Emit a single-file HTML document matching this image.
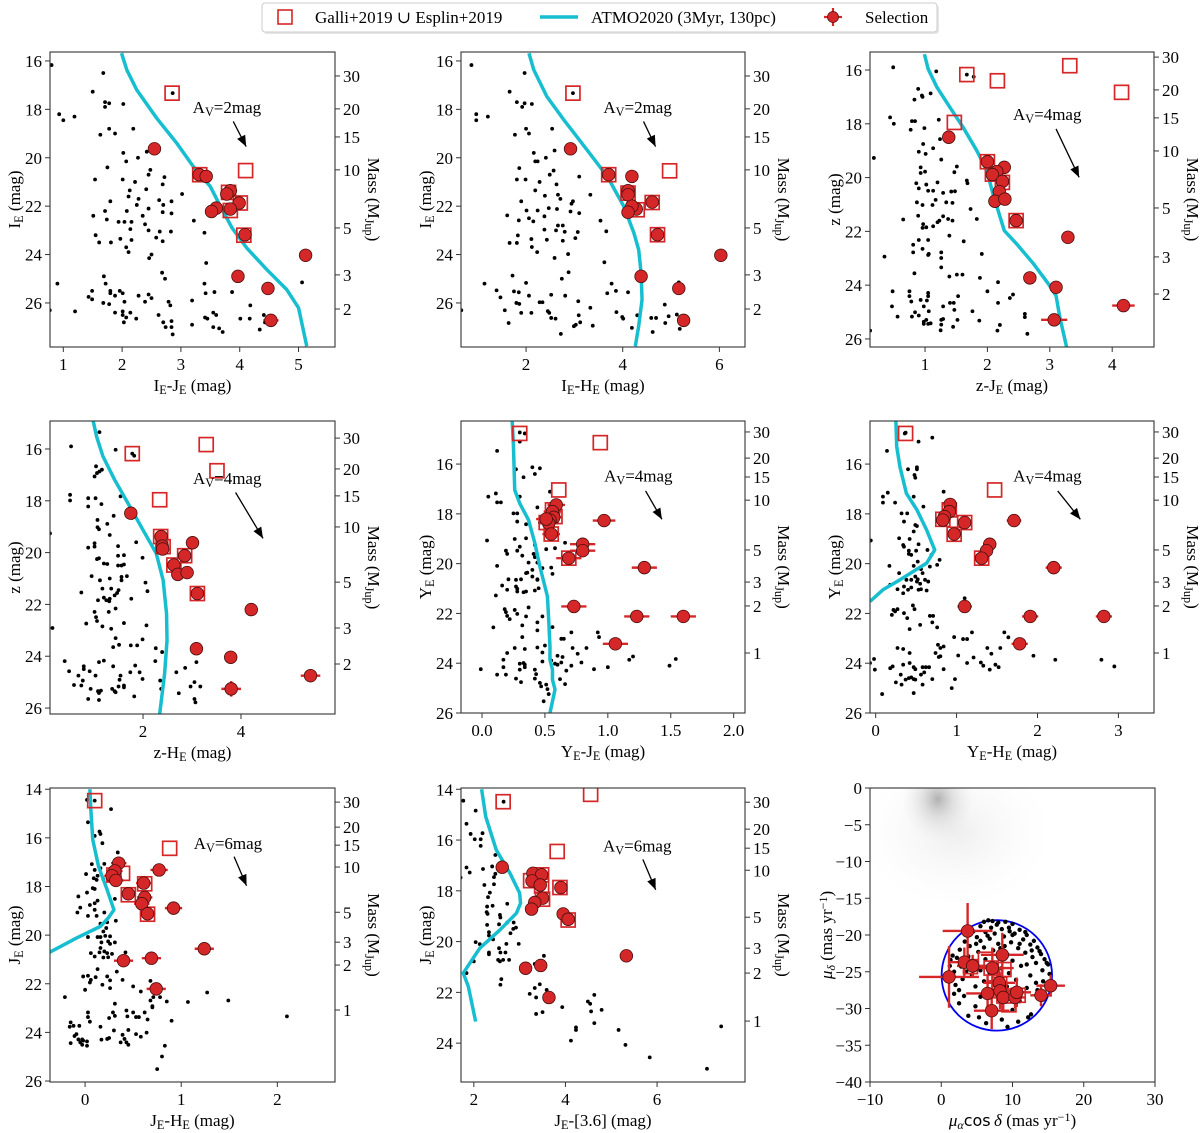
<!DOCTYPE html>
<html><head><meta charset="utf-8"><title>CMD panels</title>
<style>
html,body{margin:0;padding:0;background:#fff;}
svg{display:block;font-family:"Liberation Serif","DejaVu Serif",serif;}
</style></head>
<body>
<svg id="fig" width="1200" height="1133" viewBox="0 0 1200 1133" xmlns="http://www.w3.org/2000/svg">
<defs>
<radialGradient id="fieldGrad" cx="50%" cy="50%" r="50%">
<stop offset="0" stop-color="#9a9a9a" stop-opacity="0.75"/>
<stop offset="0.45" stop-color="#b8b8b8" stop-opacity="0.35"/>
<stop offset="1" stop-color="#dddddd" stop-opacity="0"/>
</radialGradient>
<radialGradient id="fieldGrad2" cx="50%" cy="50%" r="50%">
<stop offset="0" stop-color="#cfcfcf" stop-opacity="0.35"/>
<stop offset="1" stop-color="#eeeeee" stop-opacity="0"/>
</radialGradient>
</defs>
<g>
<rect x="264" y="5" width="675" height="29" rx="3" fill="#e6e6e6"/>
<rect x="262" y="3" width="675" height="29" rx="3" fill="#fff" stroke="#cccccc" stroke-width="1"/>
<rect x="278" y="10" width="14" height="14" fill="none" stroke="#d62728" stroke-width="1.6"/>
<text x="315" y="23" font-size="17">Galli+2019 ∪ Esplin+2019</text>
<line x1="540" y1="17" x2="578" y2="17" stroke="#17becf" stroke-width="3.5"/>
<text x="591" y="23" font-size="17">ATMO2020 (3Myr, 130pc)</text>
<line x1="824" y1="17" x2="842" y2="17" stroke="#d62728" stroke-width="2.2"/>
<line x1="833" y1="8" x2="833" y2="26" stroke="#d62728" stroke-width="2.2"/>
<circle cx="833" cy="17" r="5.5" fill="#d62728" stroke="#5a1212" stroke-width="0.8"/>
<text x="865" y="23" font-size="17">Selection</text>
</g>
</svg>
<script>
// ---------- DATA ----------
const massLabels = ["30","20","15","10","5","3","2","1"];

const p1Mass = [16.62,17.98,19.14,20.50,22.90,24.84,26.25];
const p1Dots = [[0.8,16.17],[1.68,16.5],[1.5,17.27],[1.71,17.7],[1.78,17.75],[1.71,17.9],[2.02,17.78],[0.93,18.2],[1.0,18.45],[1.19,18.3],[1.63,19.05],[1.78,18.8],[1.88,19.0],[2.19,18.8],[2.02,19.8],[2.07,20.15],[2.27,20.0],[2.42,19.75],[1.75,20.4],[1.54,20.9],[2.01,20.9],[2.22,21.0],[2.48,20.5],[2.45,20.7],[2.72,20.8],[2.69,21.1],[2.13,21.35],[2.11,21.6],[2.28,21.7],[2.41,21.3],[2.63,21.75],[2.7,21.95],[2.84,21.8],[3.02,21.5],[1.8,21.8],[1.71,22.2],[1.74,22.55],[2.08,22.2],[2.25,21.95],[2.45,22.1],[2.69,22.25],[2.84,22.3],[2.35,22.4],[1.51,22.4],[1.94,22.65],[2.04,22.65],[2.16,22.65],[2.39,22.75],[2.45,23.0],[2.64,23.05],[2.83,23.05],[2.14,22.95],[3.22,22.6],[3.4,23.1],[1.55,23.2],[1.61,23.5],[1.81,23.5],[1.97,23.35],[2.16,23.4],[2.58,23.3],[2.69,23.45],[2.07,23.7],[2.11,23.9],[2.5,24.0],[2.46,24.15],[3.43,24.35],[1.69,24.9],[1.72,25.2],[2.68,24.75],[2.73,25.0],[3.4,25.2],[3.57,25.55],[3.42,25.6],[3.87,25.55],[5.06,25.15],[0.9,25.2],[1.43,25.75],[1.49,25.5],[1.49,25.85],[1.8,25.5],[1.8,25.6],[1.88,25.7],[1.96,25.5],[2.01,25.6],[2.28,25.7],[2.45,25.65],[2.5,25.8],[2.39,25.95],[2.04,25.95],[1.68,26.0],[1.78,26.05],[1.88,26.4],[2.01,26.35],[2.01,26.5],[2.14,26.4],[2.07,26.6],[2.03,26.8],[2.24,26.65],[1.2,26.35],[0.77,26.3],[2.62,26.5],[2.7,26.8],[2.74,27.0],[2.84,26.75],[2.84,27.0],[2.79,25.95],[2.82,26.1],[3.19,25.9],[3.19,26.9],[3.41,26.6],[3.45,26.65],[3.55,26.4],[3.6,26.5],[3.55,27.0],[3.65,27.05],[3.71,27.2],[2.86,27.3],[4.01,26.65],[4.17,26.65],[4.18,26.1],[4.34,27.1],[4.41,26.5],[4.43,26.8],[2.86,17.33]];
const p1Sel = [[2.55,19.63,0,0],[3.31,20.7,0,0],[3.43,20.77,0,0],[3.84,21.36,0,0],[3.78,21.5,0,0],[3.99,21.87,0,0],[3.84,22.12,0,0],[3.6,22.08,0,0],[3.52,22.22,0,0],[4.09,23.18,0,0],[5.12,24.03,0,0],[3.97,24.9,0,0],[4.48,25.4,0,0],[4.53,26.72,0.13,0.05]];
const p1Gal = [[2.85,17.33],[3.32,20.7],[4.1,20.53],[3.81,21.43],[4.01,21.87],[3.84,22.18],[4.07,23.2]];
const p1Iso = [[1.99,15.68],[2.08,16.37],[2.25,17.2],[2.59,18.37],[2.93,19.4],[3.21,20.36],[3.5,21.19],[3.67,22.0],[3.87,22.9],[4.12,23.73],[4.46,24.62],[4.8,25.45],[5.0,26.2],[5.14,27.79]];

const p2Mass = [16.62,17.98,19.14,20.50,22.90,24.84,26.25];
const p2Dots = [[0.87,16.17],[1.97,16.5],[1.66,17.27],[1.81,17.7],[1.92,17.9],[1.97,17.75],[2.12,17.78],[0.97,18.2],[0.97,18.45],[1.21,18.3],[1.77,19.05],[2.0,18.8],[2.06,19.0],[2.54,18.8],[2.16,19.8],[2.19,20.15],[2.24,20.15],[2.41,20.0],[2.59,19.7],[1.86,20.43],[1.81,20.9],[1.99,20.9],[2.28,21.0],[2.49,20.7],[2.57,20.53],[3.1,20.78],[2.63,21.1],[2.19,21.35],[2.39,21.57],[2.66,21.53],[2.71,21.7],[2.94,21.9],[2.97,21.8],[3.33,21.53],[1.9,21.8],[1.61,22.38],[1.85,22.59],[2.01,22.18],[2.06,22.5],[2.15,22.63],[2.24,22.18],[2.38,22.42],[2.47,22.08],[2.64,22.12],[2.92,22.22],[3.1,22.29],[2.38,22.97],[2.43,23.39],[2.62,23.0],[2.66,22.8],[2.76,22.8],[2.76,23.43],[2.8,23.06],[3.02,23.32],[3.07,23.07],[3.54,22.6],[3.66,23.04],[1.66,23.52],[1.81,23.52],[1.83,23.21],[2.11,23.36],[2.12,23.69],[2.23,23.9],[2.59,24.14],[2.87,23.98],[3.62,24.32],[1.72,24.87],[2.0,25.17],[2.88,24.73],[2.74,25.0],[3.77,25.2],[3.68,25.6],[3.86,25.5],[4.11,25.56],[5.16,25.15],[1.14,25.2],[1.39,25.48],[1.47,25.77],[1.75,25.52],[1.85,25.56],[2.06,25.7],[2.52,25.66],[2.81,25.7],[1.8,26.0],[1.86,26.04],[1.56,26.3],[1.64,26.83],[1.9,26.41],[2.11,26.41],[2.28,25.97],[2.34,25.97],[2.45,26.34],[2.48,26.41],[2.52,26.62],[2.61,26.65],[3.08,25.93],[3.09,26.51],[3.12,26.8],[3.03,26.9],[2.99,26.96],[3.33,26.2],[3.38,26.94],[3.87,26.38],[3.99,26.58],[4.01,26.65],[4.3,26.51],[4.19,27.03],[2.72,27.28],[4.59,26.62],[4.69,26.62],[4.87,26.07],[4.62,27.2],[4.95,26.55],[4.88,26.83],[5.12,26.48],[5.18,27.07],[0.66,26.3],[2.97,17.33]];
const p2Sel = [[2.92,19.63,0,0],[3.71,20.7,0,0],[4.19,20.77,0,0],[4.11,21.36,0,0],[4.11,21.53,0,0],[4.61,21.83,0,0],[4.28,22.12,0,0],[4.19,22.0,0,0],[4.11,22.25,0,0],[4.72,23.18,0,0],[6.03,24.03,0,0],[4.38,24.9,0,0],[5.16,25.4,0,0],[5.26,26.72,0.1,0.05]];
const p2Gal = [[2.97,17.33],[3.71,20.7],[4.97,20.54],[4.11,21.46],[4.61,21.85],[4.3,22.15],[4.72,23.18]];
const p2Iso = [[2.06,15.68],[2.16,16.37],[2.43,17.47],[2.78,18.43],[3.26,19.67],[3.68,20.77],[4.02,22.0],[4.23,23.1],[4.33,23.8],[4.38,24.76],[4.4,25.86],[4.33,26.96],[4.26,27.79]];

const p3Mass = [15.52,16.74,17.78,19.01,21.13,22.95,24.33];
const p3Dots = [[0.49,15.9],[1.18,16.05],[1.67,16.17],[1.78,16.25],[0.89,16.7],[0.83,17.1],[0.95,16.95],[0.96,17.0],[1.09,16.87],[0.44,17.76],[0.5,18.0],[0.79,17.9],[0.84,17.9],[0.77,18.22],[0.99,18.16],[1.22,17.85],[1.24,18.57],[0.97,18.75],[1.13,18.91],[0.9,19.04],[1.01,19.12],[0.18,19.27],[1.26,19.33],[0.93,19.62],[0.93,19.83],[1.0,19.78],[1.51,19.59],[1.47,19.8],[1.67,20.11],[1.68,20.21],[0.86,20.21],[1.02,20.26],[0.9,20.4],[1.05,20.49],[1.13,20.49],[1.2,20.18],[1.29,20.57],[1.42,20.52],[1.48,20.51],[0.87,20.92],[0.96,21.02],[1.12,21.02],[1.17,20.83],[1.34,20.92],[1.44,20.94],[1.73,21.17],[0.65,21.56],[0.89,21.42],[0.97,21.73],[1.02,21.85],[0.96,21.87],[1.13,21.81],[1.2,21.66],[1.29,21.44],[1.37,21.54],[1.44,21.6],[1.23,21.6],[1.39,22.16],[1.62,22.37],[1.83,21.54],[0.9,22.32],[1.05,22.32],[0.81,22.5],[0.81,22.78],[0.96,22.65],[1.06,22.84],[1.05,22.88],[1.26,22.78],[1.26,22.99],[1.91,22.84],[0.35,22.94],[1.26,23.34],[0.83,23.56],[1.39,23.68],[1.51,23.61],[1.6,23.61],[1.88,23.73],[2.17,23.89],[0.48,24.23],[0.75,24.23],[1.05,24.29],[1.05,24.41],[0.75,24.41],[0.78,24.61],[0.93,24.55],[1.03,24.57],[0.47,24.79],[0.84,25.01],[0.98,24.79],[1.06,24.97],[1.29,24.79],[1.4,24.66],[1.46,24.66],[1.47,24.92],[1.53,24.41],[1.76,24.97],[2.0,24.23],[2.17,24.66],[2.36,24.48],[2.41,24.35],[0.56,25.17],[0.79,25.17],[0.9,25.13],[0.98,25.36],[1.02,25.29],[0.98,25.44],[1.05,25.44],[1.09,25.42],[1.26,25.29],[1.29,25.26],[1.26,25.47],[1.25,25.68],[1.45,25.55],[1.52,25.29],[1.87,25.32],[2.2,25.48],[2.16,25.69],[2.6,25.07],[2.6,25.19],[2.64,25.81],[0.12,25.69]];
const p3Sel = [[1.38,18.5,0,0],[2.0,19.41,0,0],[2.27,19.62,0,0],[2.15,19.78,0,0],[2.08,19.89,0,0],[2.24,20.14,0,0],[2.19,20.52,0,0],[2.12,20.88,0,0],[2.28,20.8,0,0],[2.46,21.6,0,0],[3.29,22.22,0.06,0.04],[2.68,23.73,0.07,0.04],[3.1,24.08,0.09,0.05],[3.07,25.29,0.21,0.2],[4.18,24.76,0.18,0.22]];
const p3Gal = [[1.67,16.17],[2.16,16.4],[3.32,15.84],[4.15,16.83],[1.47,17.95],[2.0,19.41],[2.08,19.87],[2.24,20.18],[2.46,21.6]];
const p3Iso = [[0.99,15.41],[1.05,15.96],[1.19,16.64],[1.4,17.39],[1.61,18.13],[1.83,19.0],[1.99,19.74],[2.09,20.61],[2.27,21.97],[2.47,22.47],[2.74,23.21],[2.98,23.96],[3.1,24.39],[3.16,25.19],[3.27,26.31]];

const p4Mass = [15.58,16.77,17.81,19.01,21.14,22.91,24.30];
const p4Dots = [[1.11,15.35],[0.53,15.9],[1.44,16.03],[1.78,16.18],[1.82,16.26],[1.04,16.67],[1.06,16.93],[1.01,17.06],[1.11,16.87],[1.16,16.8],[0.51,17.77],[0.51,17.99],[0.88,17.9],[0.88,18.22],[1.03,17.9],[1.15,18.13],[1.54,17.83],[1.4,18.58],[1.07,18.74],[1.27,18.89],[1.07,19.02],[1.1,19.1],[1.32,19.32],[0.1,19.26],[1.01,19.64],[1.01,19.77],[0.88,19.81],[1.49,19.75],[1.86,19.6],[1.06,20.25],[1.1,20.22],[1.2,20.42],[1.27,20.44],[1.49,20.12],[1.61,20.1],[1.49,20.5],[1.56,20.5],[1.61,20.46],[1.99,20.2],[0.95,20.91],[1.12,21.07],[1.32,21.0],[1.56,20.94],[1.56,21.07],[1.67,20.91],[2.05,21.16],[2.09,21.49],[1.17,21.39],[1.35,21.39],[1.42,21.65],[1.47,21.56],[1.5,21.45],[0.74,21.54],[1.08,21.84],[1.2,21.74],[1.25,21.84],[1.32,21.78],[1.31,21.88],[1.76,21.78],[1.44,22.16],[1.3,22.29],[1.01,22.29],[1.04,22.49],[1.06,22.64],[0.84,22.74],[1.17,22.85],[1.35,22.94],[1.61,22.72],[2.07,22.81],[0.15,22.91],[1.44,23.3],[1.39,23.65],[1.51,23.56],[1.75,23.58],[1.88,23.58],[1.99,23.35],[2.26,23.69],[2.39,23.84],[2.25,24.19],[0.4,24.19],[1.1,24.23],[1.2,24.17],[1.39,24.39],[0.49,24.58],[0.68,24.75],[0.79,24.39],[0.79,24.5],[0.91,24.58],[1.03,24.75],[1.54,24.75],[1.74,24.62],[1.84,24.36],[1.93,24.62],[1.99,24.88],[0.77,24.94],[0.74,25.13],[0.59,25.11],[0.93,25.26],[1.08,25.35],[1.1,25.42],[1.14,25.33],[0.88,25.65],[1.1,25.69],[1.37,25.26],[1.42,25.35],[1.5,25.17],[1.52,24.91],[1.61,25.13],[1.61,25.2],[1.44,25.39],[1.82,25.55],[2.35,24.94],[2.37,25.26],[2.68,24.62],[2.73,25.43],[2.86,24.45],[3.09,24.23],[2.97,25.17],[3.05,25.0],[3.17,25.17],[3.05,25.65],[3.07,25.78]];
const p4Sel = [[1.75,18.48,0,0],[2.37,19.38,0,0],[3.01,19.62,0,0],[2.39,19.75,0,0],[2.4,19.86,0,0],[2.85,20.12,0,0],[2.63,20.48,0,0],[2.71,20.84,0,0],[2.9,20.77,0,0],[3.11,21.58,0,0],[4.21,22.2,0,0],[3.09,23.71,0.05,0.04],[3.79,24.04,0.08,0.05],[3.8,25.26,0.2,0.3],[5.42,24.75,0.2,0.25]];
const p4Gal = [[1.78,16.18],[3.29,15.83],[3.51,16.84],[2.34,17.96],[2.36,19.38],[2.41,19.77],[2.85,20.12],[2.63,20.48],[3.11,21.58]];
const p4Iso = [[0.98,14.9],[1.05,15.51],[1.18,16.28],[1.42,17.19],[1.73,18.22],[2.0,19.13],[2.27,20.03],[2.41,21.06],[2.48,22.36],[2.49,23.39],[2.44,24.68],[2.34,26.23]];

const p5Mass = [14.71,15.76,16.52,17.45,19.45,20.74,21.70,23.59];
const p5Dots = [[0.3,14.73],[0.34,14.77],[0.3,15.1],[0.12,15.47],[0.27,16.21],[0.4,16.13],[0.42,16.4],[0.46,16.17],[0.33,16.53],[0.05,17.31],[0.11,17.18],[0.12,17.54],[0.15,17.54],[0.3,17.31],[0.54,17.11],[0.44,17.74],[0.25,17.98],[0.28,17.98],[0.28,18.31],[0.35,18.42],[0.46,18.35],[0.04,19.07],[0.26,19.01],[0.35,18.98],[0.3,19.32],[0.42,19.25],[0.19,19.48],[0.2,19.61],[0.28,19.48],[0.32,19.68],[0.37,19.96],[0.41,19.61],[0.42,19.74],[0.44,19.96],[0.51,19.42],[0.58,19.38],[0.12,20.09],[0.36,20.36],[0.4,20.25],[0.48,20.18],[0.55,20.16],[0.56,20.41],[0.66,19.16],[0.35,20.38],[0.4,20.52],[0.44,20.63],[0.21,20.63],[0.27,20.65],[0.31,20.63],[0.44,20.65],[0.16,20.88],[0.2,21.05],[0.27,20.92],[0.28,21.01],[0.28,21.12],[0.33,21.15],[0.35,21.12],[0.42,21.08],[0.45,20.99],[0.11,21.28],[0.18,21.83],[0.2,22.1],[0.19,21.95],[0.26,21.86],[0.28,22.02],[0.37,21.76],[0.35,22.12],[0.22,22.23],[0.44,22.36],[0.48,22.12],[0.09,22.56],[0.32,22.48],[0.44,22.68],[0.56,22.55],[0.32,22.95],[0.71,22.76],[0.63,23.02],[0.65,23.02],[0.92,22.76],[0.93,22.95],[0.26,23.39],[0.34,23.43],[0.2,23.59],[0.5,23.29],[0.44,23.37],[0.48,23.57],[0.72,23.39],[0.76,23.62],[0.83,23.39],[0.6,23.7],[0.64,23.75],[0.17,23.86],[0.3,24.02],[0.33,23.99],[0.34,24.06],[0.48,23.93],[0.55,23.89],[0.58,24.02],[0.6,24.06],[0.63,23.97],[0.79,23.97],[0.89,24.24],[0.71,24.1],[1.0,24.16],[1.17,23.86],[1.2,23.73],[1.49,24.1],[1.54,23.83],[-0.01,24.24],[0.17,24.16],[0.12,24.46],[0.19,24.46],[0.3,24.26],[0.34,24.16],[0.42,24.26],[0.43,24.44],[0.67,24.3],[0.27,24.62],[0.31,24.76],[0.42,24.62],[0.46,24.79],[0.47,24.93],[0.51,24.86],[0.62,24.64],[0.66,24.84],[0.52,25.04],[0.53,25.24],[0.49,25.53]];
const p5Sel = [[0.59,17.64,0.07,0.03],[0.56,17.91,0.07,0.03],[0.57,18.14,0.07,0.03],[0.54,18.25,0.07,0.03],[0.53,18.38,0.08,0.03],[0.51,18.21,0.08,0.03],[0.97,18.27,0.09,0.03],[0.55,18.81,0.07,0.03],[0.8,19.22,0.1,0.03],[0.8,19.48,0.1,0.03],[0.69,19.78,0.1,0.03],[1.29,20.16,0.1,0.03],[0.73,21.72,0.1,0.04],[1.23,22.12,0.1,0.04],[1.6,22.12,0.1,0.04],[1.06,23.22,0.1,0.05]];
const p5Gal = [[0.3,14.77],[0.94,15.14],[0.61,17.04],[0.56,17.84],[0.58,18.11],[0.51,18.35],[0.55,18.81],[0.69,19.78]];
const p5Iso = [[0.24,14.28],[0.25,15.3],[0.26,17.04],[0.3,17.58],[0.37,18.25],[0.42,19.18],[0.46,20.12],[0.52,21.32],[0.53,22.26],[0.54,23.33],[0.54,23.86],[0.56,24.26],[0.56,24.66],[0.58,25.06],[0.54,26.0]];

const p6Mass = [14.71,15.76,16.52,17.45,19.45,20.74,21.70,23.59];
const p6Dots = [[0.36,14.77],[0.37,14.74],[0.53,15.1],[0.7,14.94],[0.14,15.47],[0.4,16.21],[0.51,16.13],[0.51,16.21],[0.48,16.44],[0.49,16.55],[0.09,17.31],[0.15,17.15],[0.09,17.55],[0.24,17.55],[0.47,17.31],[0.59,17.71],[0.84,17.11],[0.32,17.98],[0.39,17.98],[0.35,18.31],[0.49,18.45],[0.51,18.49],[0.47,18.71],[-0.06,19.07],[0.29,18.98],[0.34,19.25],[0.35,19.32],[0.42,19.01],[0.53,19.22],[0.41,19.48],[0.41,19.61],[0.5,19.48],[0.44,19.65],[0.64,19.45],[0.69,19.65],[0.79,19.85],[0.17,20.09],[0.52,19.92],[0.47,20.09],[0.56,20.22],[0.58,20.38],[0.67,20.12],[0.76,20.05],[0.18,20.85],[0.29,20.38],[0.38,20.65],[0.44,20.65],[0.49,20.52],[0.52,20.63],[0.51,20.72],[0.55,20.81],[0.61,20.65],[0.65,20.72],[0.35,20.92],[0.4,21.05],[0.44,20.96],[0.53,21.05],[0.56,21.03],[0.63,21.08],[0.27,21.03],[0.34,21.19],[1.1,21.39],[0.22,21.86],[0.24,21.92],[0.2,22.06],[0.27,21.83],[0.35,21.99],[0.39,22.19],[0.46,21.68],[0.48,21.83],[0.42,22.63],[0.55,22.46],[0.67,22.1],[0.71,22.1],[0.7,22.36],[0.76,22.56],[0.97,22.95],[1.08,23.03],[1.13,23.03],[1.19,22.76],[1.59,22.76],[1.64,22.96],[0.77,23.26],[0.8,23.39],[0.84,23.33],[0.27,23.39],[0.34,23.43],[0.42,23.59],[0.74,23.59],[0.78,23.75],[0.8,23.72],[1.02,23.69],[1.13,23.99],[1.21,23.77],[1.3,23.97],[1.33,24.1],[1.38,23.39],[1.43,23.62],[1.54,23.39],[1.48,24.06],[1.52,24.16],[1.41,24.26],[1.95,23.7],[2.22,23.86],[2.79,23.86],[2.95,24.13],[-0.07,23.99],[-0.02,23.83],[-0.01,24.26],[0.18,24.2],[0.21,24.13],[0.34,24.06],[0.42,23.99],[0.47,24.16],[0.49,24.24],[0.58,24.16],[0.62,24.16],[0.66,24.16],[0.56,24.46],[0.6,24.37],[0.31,24.46],[0.25,24.77],[0.32,24.86],[0.37,24.66],[0.41,24.6],[0.44,24.57],[0.47,24.64],[0.49,24.66],[0.58,24.86],[0.7,24.64],[0.84,24.24],[0.98,24.64],[0.94,25.0],[0.47,25.2],[0.08,25.24]];
const p6Sel = [[0.92,17.62,0.06,0.03],[0.91,17.91,0.06,0.03],[0.85,18.11,0.06,0.03],[0.83,18.25,0.06,0.03],[1.71,18.27,0.09,0.03],[1.1,18.35,0.06,0.03],[0.97,18.81,0.06,0.03],[1.41,19.22,0.08,0.03],[1.37,19.48,0.08,0.03],[1.31,19.78,0.08,0.03],[2.2,20.16,0.1,0.03],[1.1,21.72,0.09,0.04],[1.91,22.12,0.1,0.04],[2.82,22.12,0.1,0.04],[1.78,23.22,0.1,0.05]];
const p6Gal = [[0.37,14.77],[1.47,17.04],[0.91,17.84],[0.83,18.22],[1.1,18.35],[0.97,18.82],[1.31,19.78]];
const p6Iso = [[0.25,14.28],[0.26,15.3],[0.3,16.11],[0.38,17.18],[0.51,17.84],[0.63,18.65],[0.73,19.45],[0.63,19.98],[0.3,20.65],[0.09,21.05],[-0.07,21.52]];

const p7Mass = [14.53,15.56,16.30,17.20,19.06,20.29,21.23,23.08];
const p7Dots = [[0.02,14.44],[0.1,14.47],[0.27,14.82],[0.03,15.36],[0.15,15.74],[0.16,15.84],[0.1,15.92],[0.18,16.22],[0.34,16.6],[0.07,17.08],[0.1,17.32],[0.16,17.25],[0.2,17.07],[0.31,17.16],[0.01,17.49],[0.09,17.66],[0.12,17.73],[0.13,17.56],[0.19,17.7],[0.08,18.07],[0.1,18.1],[0.02,18.25],[-0.07,18.41],[0.31,18.51],[0.13,18.58],[-0.05,18.87],[0.05,18.76],[0.1,18.69],[-0.08,19.07],[0.03,19.21],[0.1,18.96],[0.12,19.21],[0.2,19.07],[0.32,19.41],[0.16,19.53],[0.23,19.47],[0.22,19.71],[0.19,19.85],[0.03,20.08],[0.13,20.08],[0.16,20.08],[0.21,20.03],[0.26,20.05],[0.24,20.26],[0.17,20.3],[0.26,20.36],[0.31,20.3],[0.16,20.53],[0.06,20.74],[0.15,20.71],[0.2,20.67],[0.23,20.74],[0.28,20.77],[0.1,20.88],[0.19,20.92],[0.24,20.91],[0.42,20.71],[0.13,21.4],[0.33,21.5],[-0.02,21.7],[0.03,21.67],[0.11,21.73],[0.06,21.84],[0.23,21.7],[0.26,21.86],[0.39,21.84],[0.05,21.95],[0.18,22.04],[0.0,22.25],[0.26,22.18],[-0.21,22.55],[0.5,22.11],[0.58,22.32],[0.68,21.88],[0.71,22.55],[0.68,22.69],[0.78,22.55],[0.85,22.73],[1.07,22.75],[1.27,22.36],[1.49,22.69],[0.31,22.82],[0.29,23.18],[0.31,23.32],[0.43,23.1],[0.5,23.18],[0.44,23.34],[0.53,23.37],[0.56,23.37],[0.62,23.18],[0.65,23.47],[0.7,22.92],[0.7,22.97],[0.03,23.18],[0.03,23.37],[0.25,23.41],[0.9,23.52],[0.05,23.56],[-0.15,23.59],[-0.12,23.73],[-0.06,23.73],[-0.16,23.77],[0.16,23.77],[0.45,23.9],[-0.09,24.07],[-0.11,24.15],[-0.07,24.29],[-0.03,24.29],[-0.02,24.34],[-0.05,24.41],[0.02,24.37],[0.02,24.55],[-0.03,24.51],[-0.15,24.44],[0.17,24.3],[0.23,24.27],[0.25,24.23],[0.3,23.92],[0.39,24.1],[0.41,24.27],[0.43,24.41],[0.37,24.41],[0.45,24.51],[0.53,24.07],[0.58,24.18],[0.64,24.01],[0.83,24.55],[0.8,24.99],[0.75,25.51],[2.1,23.34]];
const p7Sel = [[0.35,17.04,0.08,0.03],[0.31,17.36,0.08,0.03],[0.28,17.56,0.08,0.03],[0.32,17.75,0.08,0.03],[0.77,17.32,0.09,0.03],[0.61,17.86,0.08,0.03],[0.45,18.3,0.08,0.03],[0.62,18.45,0.08,0.03],[0.59,18.71,0.08,0.03],[0.65,19.12,0.08,0.03],[0.92,18.89,0.09,0.03],[1.24,20.56,0.1,0.04],[0.4,21.05,0.1,0.04],[0.69,20.95,0.1,0.04],[0.74,22.21,0.1,0.05]];
const p7Gal = [[0.1,14.47],[0.88,16.43],[0.3,17.53],[0.39,17.46],[0.62,17.89],[0.45,18.34],[0.65,19.14]];
const p7Iso = [[0.05,14.0],[0.06,14.85],[0.08,16.08],[0.14,17.18],[0.23,18.14],[0.3,18.96],[0.24,19.3],[0.16,19.64],[-0.09,20.12],[-0.37,20.71]];

const p8Mass = [14.51,15.57,16.32,17.19,19.04,20.26,21.24,23.13];
const p8Dots = [[1.77,14.45],[2.04,14.84],[1.84,15.36],[1.93,15.76],[2.02,15.97],[2.15,15.97],[2.19,15.73],[2.15,16.23],[2.47,16.59],[1.84,17.08],[1.91,17.28],[2.2,17.14],[2.4,17.04],[2.55,17.0],[1.71,17.48],[2.47,17.33],[2.44,17.46],[2.23,17.77],[2.44,17.74],[2.35,18.07],[2.31,18.25],[2.29,18.62],[2.28,18.84],[2.3,18.91],[2.41,18.59],[2.73,18.51],[2.57,18.95],[2.58,19.05],[2.29,19.34],[2.55,19.32],[2.73,19.25],[2.87,19.25],[2.92,19.45],[2.86,19.5],[2.8,19.67],[2.33,19.63],[2.33,19.76],[2.42,19.91],[2.04,20.02],[2.13,20.1],[2.98,20.09],[2.71,20.09],[2.33,20.43],[2.33,20.5],[2.55,20.26],[2.58,20.43],[2.69,20.43],[2.53,20.72],[2.57,20.78],[2.64,20.72],[2.77,20.72],[3.33,20.88],[3.53,20.56],[1.69,20.69],[2.0,20.78],[1.84,21.24],[2.6,21.48],[2.58,21.7],[3.44,21.68],[3.33,21.83],[3.59,21.9],[3.22,22.06],[3.36,22.2],[3.62,22.03],[3.5,22.78],[3.36,22.85],[3.93,22.58],[4.49,22.36],[4.54,22.45],[4.63,22.1],[4.56,22.75],[4.79,22.69],[4.63,23.21],[4.23,23.38],[4.23,23.48],[5.16,23.48],[4.12,23.9],[5.31,24.07],[5.84,24.56],[7.09,25.01],[7.4,23.34],[2.65,14.49]];
const p8Sel = [[2.62,17.07,0,0],[3.29,17.31,0,0],[3.48,17.37,0,0],[3.27,17.61,0,0],[3.45,17.77,0,0],[3.9,17.87,0,0],[3.5,18.29,0,0],[3.33,18.46,0,0],[3.26,18.72,0,0],[3.95,18.91,0,0],[4.06,19.12,0,0],[5.33,20.56,0,0],[3.13,21.05,0,0.1],[3.46,20.94,0,0],[3.64,22.2,0,0.15]];
const p8Gal = [[2.64,14.49],[4.55,14.2],[3.82,16.45],[3.24,17.6],[3.48,17.37],[3.48,17.81],[3.88,17.87],[3.5,18.33],[4.06,19.15]];
const p8Iso = [[2.17,14.0],[2.26,15.08],[2.49,16.39],[2.79,17.31],[3.0,18.09],[3.02,18.49],[2.93,18.88],[2.57,19.54],[2.13,20.26],[1.77,21.24],[1.88,21.77],[2.04,23.15]];

const p9Dots = [[6,-18.2],[6.6,-18],[7.2,-18.1],[8,-18.3],[9,-18.2],[10,-18.5],[5.5,-18.8],[7,-19],[8.5,-19.2],[9.5,-19],[11,-19.3],[4.5,-19.5],[6.2,-19.6],[7.5,-19.8],[10.3,-19.8],[12,-20],[5,-20.3],[8.8,-20.2],[11.5,-20.6],[13,-20.8],[3.3,-20.9],[6.8,-20.5],[9.8,-21],[12.5,-21.3],[4,-21.5],[6,-21.7],[8,-21.2],[10.8,-21.8],[13.5,-21.7],[2.6,-22],[5.2,-22.3],[7.3,-22.1],[11.8,-22.4],[14,-22.6],[1.6,-22.8],[3.8,-22.9],[9.3,-22.7],[12.8,-23],[14.5,-23.3],[1.3,-23.4],[2.2,-23.1],[6.2,-23.3],[10,-23.5],[13.3,-23.8],[15,-24],[2.8,-24.3],[5.5,-24.8],[11.2,-24.2],[14.2,-24.8],[1.8,-25],[4.3,-25.5],[9.5,-25.2],[12.5,-25.5],[3,-26],[6,-26.3],[10.5,-26.1],[14.3,-26.3],[2,-26.8],[4.8,-27],[7.5,-26.8],[12,-27.2],[13.5,-27.5],[1.8,-28],[3.2,-28.3],[5.5,-28.4],[9,-28],[11,-29],[14.2,-28.8],[2.5,-29.3],[4.8,-29.7],[6.5,-30],[10,-30.2],[12.6,-30.8],[3.8,-31],[8.5,-31.5],[12.2,-31.2],[6.3,-32],[9.3,-32.5],[5.5,-20.8],[8.3,-21.8],[10,-20],[11,-21.2],[4.2,-23.8],[7,-24],[8.5,-24.5],[12,-24],[3.5,-25],[6.8,-25.2],[13.3,-26.5],[9.2,-27],[2.5,-27.5],[15.2,-25.3],[14.8,-23.8],[1.2,-24.2],[7.8,-18.6],[9.6,-19.5],[11.8,-19.6],[6.5,-20.1],[12.7,-22.1],[4.9,-21.2],[13.8,-22.2],[8.9,-21.5],[5.3,-31.2],[10.8,-31.8]];
const p9Sel = [[3.7,-19.45,3.5,3.8],[1.09,-25.7,4.2,4.2],[3.24,-23.7,2.0,2.0],[4.41,-24.2,2.2,1.5],[7.17,-24.5,3.0,2.8],[8.57,-22.7,3.0,3.0],[8.15,-26.5,2.2,2.2],[8.25,-27.6,2.5,2.5],[6.5,-27.95,3.0,2.5],[8.7,-28.5,2.0,2.0],[10.35,-28.5,1.5,1.5],[10.6,-27.8,2.0,2.0],[7.08,-30.3,2.5,2.5],[14.0,-28.2,1.5,1.5],[15.36,-26.9,2.0,1.5]];
const p9Gal = [[7,-24.5],[8.8,-24.7],[8.2,-26.7],[8.8,-28.3],[10.8,-28.2],[6.2,-23.3],[4.1,-24.3],[9.5,-29.5],[7.5,-27.2]];
const p9Circle = [7.8,-25.5,7.75];

// ---------- RENDER ----------
const NS = "http://www.w3.org/2000/svg";
const svg = document.getElementById('fig');
function mk(tag, attrs, parent){ const e=document.createElementNS(NS,tag); for(const k in attrs) e.setAttribute(k,attrs[k]); parent.appendChild(e); return e; }
function richText(el, str, fs){
  const parts = str.split(/(_\{[^}]*\}|\^\{[^}]*\})/);
  parts.forEach(p=>{
    if(!p) return;
    let t;
    if(p.startsWith('_{')){ t=mk('tspan',{'baseline-shift':'-25%','font-size':fs*0.72},el); t.textContent=p.slice(2,-1); }
    else if(p.startsWith('^{')){ t=mk('tspan',{'baseline-shift':'45%','font-size':fs*0.72},el); t.textContent=p.slice(2,-1); }
    else { t=mk('tspan',{},el); t.textContent=p; }
  });
}
const RED="#d62728";
const panels = [
 {name:'panel-ie-ije',box:[50,52,285,295],xr:[0.774,5.62],yr:[15.63,27.82],xt:[1,2,3,4,5],yt:[16,18,20,22,24,26],xl:'I_{E}-J_{E} (mag)',yl:'I_{E} (mag)',mass:p1Mass,dots:p1Dots,sel:p1Sel,gal:p1Gal,iso:p1Iso,av:[3.89,18.5,4.11,19.54],avt:[3.2,18.15,'2mag']},
 {name:'panel-ie-ihe',box:[461,52,284,295],xr:[0.654,6.53],yr:[15.63,27.82],xt:[2,4,6],yt:[16,18,20,22,24,26],xl:'I_{E}-H_{E} (mag)',yl:'I_{E} (mag)',mass:p2Mass,dots:p2Dots,sel:p2Sel,gal:p2Gal,iso:p2Iso,av:[4.43,18.5,4.68,19.54],avt:[3.6,18.15,'2mag']},
 {name:'panel-z-zje',box:[870,52,284,295],xr:[0.118,4.67],yr:[15.33,26.3],xt:[1,2,3,4],yt:[16,18,20,22,24,26],xl:'z-J_{E} (mag)',yl:'z (mag)',mass:p3Mass,dots:p3Dots,sel:p3Sel,gal:p3Gal,iso:p3Iso,av:[3.1,18.19,3.47,19.99],avt:[2.41,17.85,'4mag']},
 {name:'panel-z-zhe',box:[50,421,285,293],xr:[0.1,5.92],yr:[14.92,26.23],xt:[2,4],yt:[16,18,20,22,24,26],xl:'z-H_{E} (mag)',yl:'z (mag)',mass:p4Mass,dots:p4Dots,sel:p4Sel,gal:p4Gal,iso:p4Iso,av:[3.89,17.68,4.45,19.45],avt:[3.02,17.35,'4mag']},
 {name:'panel-ye-yje',box:[461,421,284,292],xr:[-0.167,2.09],yr:[14.27,26.0],xt:[0,0.5,1,1.5,2],xtl:['0.0','0.5','1.0','1.5','2.0'],yt:[16,18,20,22,24,26],xl:'Y_{E}-J_{E} (mag)',yl:'Y_{E} (mag)',mass:p5Mass,dots:p5Dots,sel:p5Sel,gal:p5Gal,iso:p5Iso,av:[1.3,17.08,1.43,18.22],avt:[0.97,16.7,'4mag']},
 {name:'panel-ye-yhe',box:[870,421,284,292],xr:[-0.07,3.44],yr:[14.27,26.0],xt:[0,1,2,3],yt:[16,18,20,22,24,26],xl:'Y_{E}-H_{E} (mag)',yl:'Y_{E} (mag)',mass:p6Mass,dots:p6Dots,sel:p6Sel,gal:p6Gal,iso:p6Iso,av:[2.25,17.08,2.53,18.22],avt:[1.7,16.7,'4mag']},
 {name:'panel-je-jhe',box:[50,788,285,294],xr:[-0.365,2.6],yr:[13.95,26.04],xt:[0,1,2],yt:[14,16,18,20,22,24,26],xl:'J_{E}-H_{E} (mag)',yl:'J_{E} (mag)',mass:p7Mass,dots:p7Dots,sel:p7Sel,gal:p7Gal,iso:p7Iso,av:[1.55,16.77,1.68,17.97],avt:[1.13,16.45,'6mag']},
 {name:'panel-je-j36',box:[461,788,284,294],xr:[1.72,7.92],yr:[13.95,25.53],xt:[2,4,6],yt:[14,16,18,20,22,24],xl:'J_{E}-[3.6] (mag)',yl:'J_{E} (mag)',mass:p8Mass,dots:p8Dots,sel:p8Sel,gal:p8Gal,iso:p8Iso,av:[5.69,16.76,5.97,17.96],avt:[4.82,16.45,'6mag']},
 {name:'panel-proper-motion',box:[870,788,285,294],xr:[-10,30],yr:[0,-40],xt:[-10,0,10,20,30],yt:[0,-5,-10,-15,-20,-25,-30,-35,-40],xl:'PMX',yl:'PMY',mass:null,dots:p9Dots,sel:p9Sel,gal:p9Gal,iso:null,pm:true}
];
function fmt(v){ return (v<0?'\u2212':'')+Math.abs(v); }

panels.forEach((p,pi)=>{
  const [bx,by,bw,bh]=p.box;
  const sx=v=>bx+(v-p.xr[0])/(p.xr[1]-p.xr[0])*bw;
  const sy=v=>by+(v-p.yr[0])/(p.yr[1]-p.yr[0])*bh;
  const g=mk('g',{},svg);
  
  
  const cp=mk('clipPath',{id:'clip'+pi},g);
  mk('rect',{x:bx,y:by,width:bw,height:bh},cp);
  const plot=mk('g',{'clip-path':'url(#clip'+pi+')'},g);
  
  
  if(p.pm){
    const f2=mk('ellipse',{cx:sx(2),cy:sy(-6),rx:95,ry:75,fill:'url(#fieldGrad2)'},plot);
    
    
    const f=mk('ellipse',{cx:sx(-0.5),cy:sy(-1.5),rx:36,ry:42,fill:'url(#fieldGrad)'},plot);
    
    
    const c=mk('circle',{cx:sx(p9Circle[0]),cy:sy(p9Circle[1]),r:(sx(p9Circle[2])-sx(0)),fill:'none',stroke:'#0000ee','stroke-width':1.8},plot);
    
    
  }
  p.dots.forEach(d=>{
    const c=mk('circle',{cx:sx(d[0]),cy:sy(d[1]),r:p.pm?2.2:1.9,fill:'#000'},plot);
    
    
  });
  if(p.iso){
    const l=mk('polyline',{points:p.iso.map(d=>sx(d[0])+','+sy(d[1])).join(' '),fill:'none',stroke:'#17becf','stroke-width':3.5,'stroke-linejoin':'round'},plot);
    
    
  }
  p.gal.forEach(d=>{
    const s=mk('rect',{x:sx(d[0])-7,y:sy(d[1])-7,width:14,height:14,fill:'none',stroke:RED,'stroke-width':1.7},plot);
    
    
  });
  p.sel.forEach(d=>{
    if(d[2]>0){
      const e=mk('line',{x1:sx(d[0]-d[2]),x2:sx(d[0]+d[2]),y1:sy(d[1]),y2:sy(d[1]),stroke:RED,'stroke-width':2.4},plot);
      
      
    }
    if(d[3]>0){
      const e=mk('line',{x1:sx(d[0]),x2:sx(d[0]),y1:sy(d[1]-d[3]),y2:sy(d[1]+d[3]),stroke:RED,'stroke-width':2.4},plot);
      
      
    }
  });
  p.sel.forEach(d=>{
    const c=mk('circle',{cx:sx(d[0]),cy:sy(d[1]),r:6.3,fill:RED,stroke:'#4a0e0e','stroke-width':0.8},plot);
    
    
  });
  if(p.av){
    const x1=sx(p.av[0]),y1=sy(p.av[1]),x2=sx(p.av[2]),y2=sy(p.av[3]);
    const a=mk('line',{x1:x1,y1:y1,x2:x2,y2:y2,stroke:'#000','stroke-width':1.3},g);
    
    
    const ang=Math.atan2(y2-y1,x2-x1), L=11, W=4.5;
    const hx=x2-L*Math.cos(ang), hy=y2-L*Math.sin(ang);
    const pts=[[x2,y2],[hx-W*Math.sin(ang),hy+W*Math.cos(ang)],[hx+W*Math.sin(ang),hy-W*Math.cos(ang)]];
    const h=mk('polygon',{points:pts.map(q=>q.join(',')).join(' '),fill:'#000'},g);
    
    
    const t=mk('text',{x:sx(p.avt[0]),y:sy(p.avt[1]),'font-size':17},g);
    
    
    richText(t,'A_{V}='+p.avt[2],17);
  }
  const fr=mk('rect',{x:bx,y:by,width:bw,height:bh,fill:'none',stroke:'#333','stroke-width':1.1},g);
  
  
  p.xt.forEach((v,i)=>{
    const X=sx(v);
    const tk=mk('line',{x1:X,x2:X,y1:by+bh,y2:by+bh+5,stroke:'#333','stroke-width':1},g);
    
    
    const t=mk('text',{x:X,y:by+bh+23,'font-size':17,'text-anchor':'middle'},g);
    
    
    t.textContent=p.xtl?p.xtl[i]:fmt(v);
  });
  p.yt.forEach(v=>{
    const Y=sy(v);
    const tk=mk('line',{x1:bx-5,x2:bx,y1:Y,y2:Y,stroke:'#333','stroke-width':1},g);
    
    
    const t=mk('text',{x:bx-8,y:Y+6,'font-size':17,'text-anchor':'end'},g);
    
    
    t.textContent=fmt(v);
  });
  if(p.mass){
    p.mass.forEach((v,i)=>{
      const Y=sy(v);
      const tk=mk('line',{x1:bx+bw,x2:bx+bw+5,y1:Y,y2:Y,stroke:'#333','stroke-width':1},g);
      
      
      const t=mk('text',{x:bx+bw+8,y:Y+6,'font-size':17},g);
      
      
      t.textContent=massLabels[i];
    });
    const mt=mk('text',{x:0,y:0,'font-size':17,'text-anchor':'middle',transform:'translate('+(bx+bw+33)+','+(by+bh/2)+') rotate(90)'},g);
    
    
    richText(mt,'Mass (M_{Jup})',17);
  }
  const xl=mk('text',{x:bx+bw/2,y:by+bh+44,'font-size':17,'text-anchor':'middle'},g);
  
  
  const yl=mk('text',{x:0,y:0,'font-size':17,'text-anchor':'middle',transform:'translate('+(bx-(p.pm?38:30))+','+(by+bh/2)+') rotate(-90)'},g);
  
  
  if(p.pm){
    const a=mk('tspan',{'font-style':'italic'},xl); a.textContent='μ';
    const b=mk('tspan',{'font-style':'italic','baseline-shift':'-25%','font-size':12},xl); b.textContent='α';
    const c=mk('tspan',{'font-family':'DejaVu Sans, sans-serif','font-size':16},xl); c.textContent='cos';
    const d=mk('tspan',{'font-style':'italic'},xl); d.textContent='\u2009δ';
    const e=mk('tspan',{},xl); e.textContent=' (mas yr';
    const f=mk('tspan',{'baseline-shift':'45%','font-size':12},xl); f.textContent='\u22121';
    const h=mk('tspan',{},xl); h.textContent=')';
    const a2=mk('tspan',{'font-style':'italic'},yl); a2.textContent='μ';
    const b2=mk('tspan',{'font-style':'italic','baseline-shift':'-25%','font-size':12},yl); b2.textContent='δ';
    const e2=mk('tspan',{},yl); e2.textContent=' (mas yr';
    const f2=mk('tspan',{'baseline-shift':'45%','font-size':12},yl); f2.textContent='\u22121';
    const h2=mk('tspan',{},yl); h2.textContent=')';
  } else {
    richText(xl,p.xl,17);
    richText(yl,p.yl,17);
  }
});
</script>
</body></html>
